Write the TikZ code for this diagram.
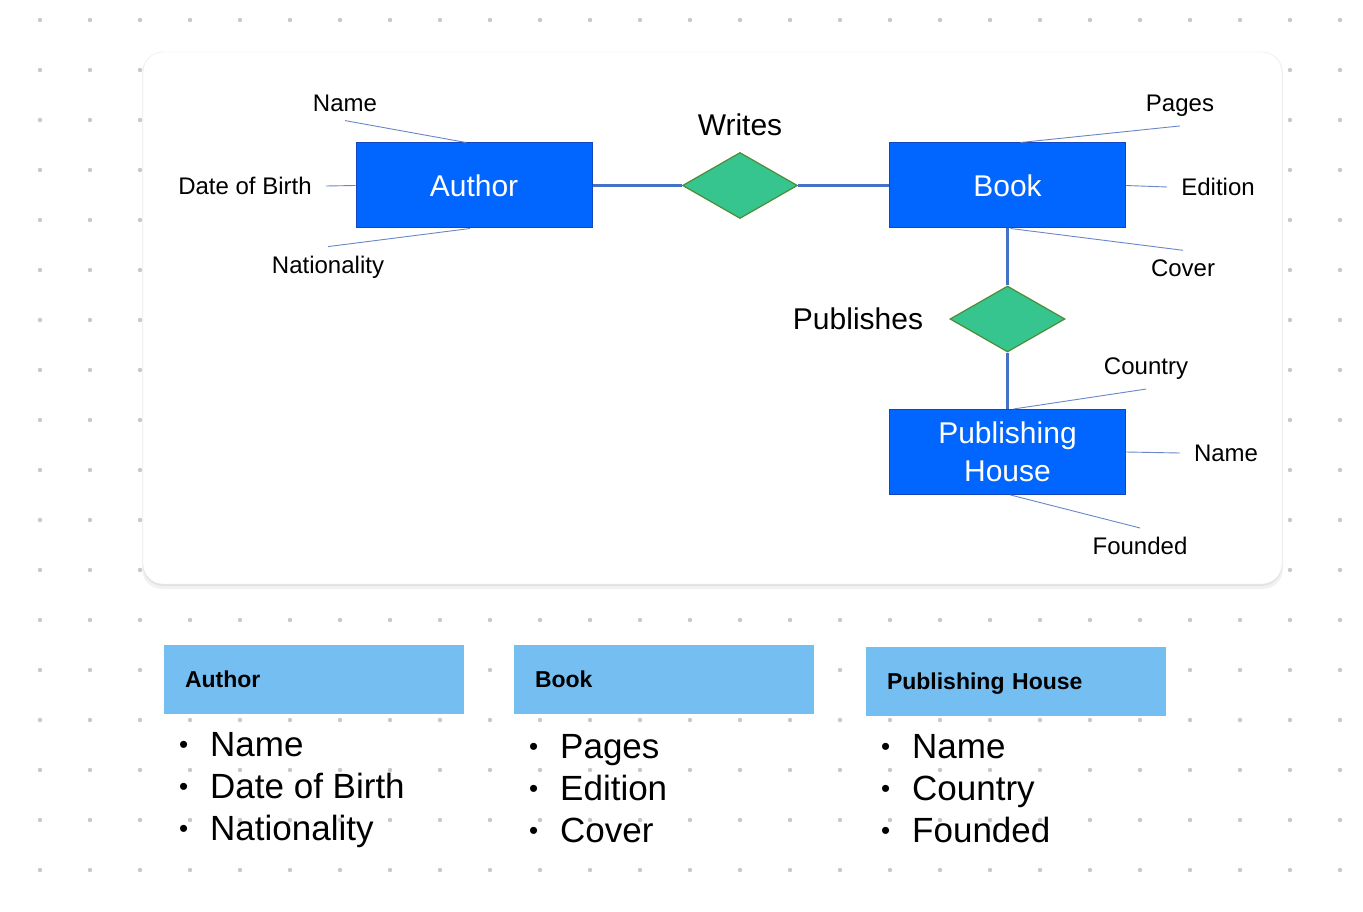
\documentclass[tikz,border=0pt]{standalone}
\usepackage{fontspec}
\setmainfont{Liberation Sans}
\usetikzlibrary{positioning,shapes.geometric,calc}

\definecolor{dotgray}{RGB}{200,200,200}
\definecolor{entityblue}{RGB}{0,102,255}
\definecolor{entityborder}{RGB}{20,70,190}
\definecolor{relgreen}{RGB}{54,196,143}
\definecolor{relborder}{RGB}{80,140,55}
\definecolor{linkblue}{RGB}{68,114,196}
\definecolor{attrblue}{RGB}{105,135,200}
\definecolor{headerblue}{RGB}{117,190,242}
\definecolor{cardedge}{RGB}{232,232,236}

\newcommand{\erbullet}{\makebox[31pt][l]{\raisebox{2.5pt}{\fontsize{26}{26}\selectfont\textbullet}}}

\begin{document}
\begin{tikzpicture}[x=1pt, y=-1pt,
    entity/.style={draw=entityborder, fill=entityblue, text=white, line width=1pt,
        minimum width=236pt, minimum height=85pt, align=center,
        font=\fontsize{30}{38}\selectfont},
    relation/.style={diamond, draw=relborder, fill=relgreen, line width=1.2pt,
        minimum width=115pt, minimum height=66pt, inner sep=0pt},
    rellabel/.style={font=\fontsize{30}{36}\selectfont},
    attr/.style={font=\fontsize{24}{28}\selectfont, inner xsep=14pt, inner ysep=9pt},
    link/.style={linkblue, line width=3pt},
    attrline/.style={attrblue, line width=0.9pt},
    header/.style={fill=headerblue, minimum width=300pt, minimum height=69pt,
        text width=258pt, inner xsep=21pt, align=left, text height=16pt, text depth=0pt,
        font=\bfseries\fontsize{23}{28}\selectfont},
    item/.style={font=\fontsize{35}{42}\selectfont, anchor=base west, inner sep=0pt}
]

    % page size
    \useasboundingbox (0,0) rectangle (1363,912);
    \fill[white] (0,0) rectangle (1363,912);

    % dot grid in the background
    \foreach \i in {0,...,26} {
        \foreach \j in {0,...,17} {
            \fill[dotgray] (40+50*\i, 20+50*\j) circle (2.2pt);
        }
    }

    % card with a soft shadow
    \fill[black, opacity=0.05, rounded corners=20pt] (142,53) rectangle (1283,589);
    \fill[black, opacity=0.06, rounded corners=20pt] (143,53) rectangle (1282,586);
    \draw[cardedge, fill=white, rounded corners=20pt] (143,52) rectangle (1282,584);

    % entities
    \node[entity] (author) at (474,185.5) {Author};
    \node[entity] (book) at (1007.5,185.5) {Book};
    \node[entity] (house) at (1007.5,452) {Publishing\\House};

    % relationships
    \node[relation] (writes) at (740,185.5) {};
    \node[rellabel] (writesLbl) at (740,125) {Writes};
    \node[relation] (publishes) at (1007.5,319) {};
    \node[rellabel] (publishesLbl) at (858,319) {Publishes};

    \draw[link] (author) -- (writes);
    \draw[link] (writes) -- (book);
    \draw[link] (book) -- (publishes);
    \draw[link] (publishes) -- (house);

    % author attributes
    \node[attr] (aName) at (345,103) {Name};
    \node[attr] (aBirth) at (245,186) {Date of Birth};
    \node[attr] (aNation) at (328,267) {Nationality};
    \draw[attrline] (aName.south) -- ([xshift=-8pt]author.north);
    \draw[attrline] (aBirth.east) -- (author.west);
    \draw[attrline] (aNation.north) -- ([xshift=-4pt]author.south);

    % book attributes
    \node[attr] (bPages) at (1180,106) {Pages};
    \node[attr] (bEdition) at (1218,187) {Edition};
    \node[attr] (bCover) at (1183,268) {Cover};
    \draw[attrline] (bPages.south) -- ([xshift=13pt]book.north);
    \draw[attrline] (bEdition.west) -- (book.east);
    \draw[attrline] (bCover.north) -- ([xshift=3pt]book.south);

    % publishing house attributes
    \node[attr] (hCountry) at (1146,369) {Country};
    \node[attr] (hName) at (1226,453) {Name};
    \node[attr] (hFounded) at (1140,546) {Founded};
    \draw[attrline] (hCountry.south) -- ([xshift=6pt]house.north);
    \draw[attrline] (hName.west) -- (house.east);
    \draw[attrline] (hFounded.north) -- ([xshift=3pt]house.south);

    % summary tables below the card
    \node[header] (hdAuthor) at (314,679.5) {Author};
    \node[header] (hdBook) at (664,679.5) {Book};
    \node[header] (hdHouse) at (1016,681.5) {Publishing House};

    \foreach \txt [count=\k] in {Name, Date of Birth, Nationality}
        \node[item] (liAuthor\k) at (179,714+42*\k) {\erbullet\txt};
    \foreach \txt [count=\k] in {Pages, Edition, Cover}
        \node[item] (liBook\k) at (529,716+42*\k) {\erbullet\txt};
    \foreach \txt [count=\k] in {Name, Country, Founded}
        \node[item] (liHouse\k) at (881,716+42*\k) {\erbullet\txt};

\end{tikzpicture}
\end{document}
